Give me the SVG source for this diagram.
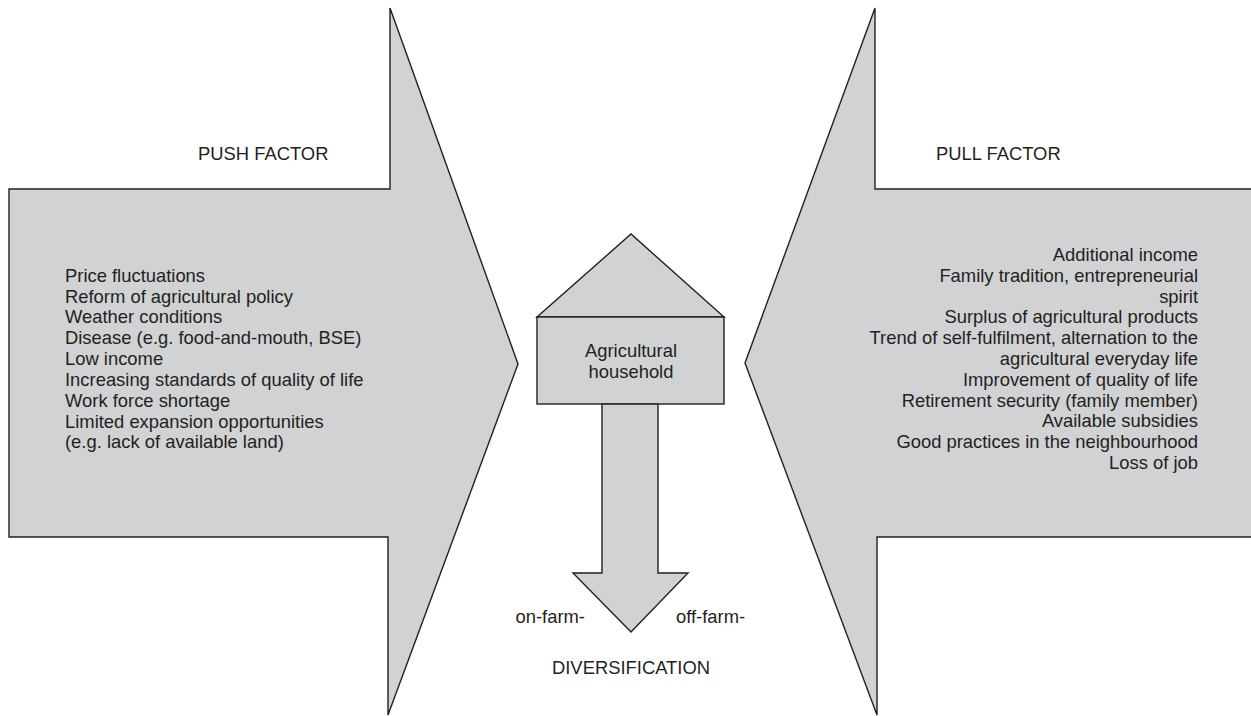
<svg xmlns="http://www.w3.org/2000/svg" width="1251" height="716" viewBox="0 0 1251 716">
<style>
.shape{fill:#d1d2d4;stroke:#231f20;stroke-width:1.4;stroke-linejoin:miter}
text{font-family:"Liberation Sans",Arial,sans-serif;font-size:18.4px;fill:#231f20}
.mid{text-anchor:middle}
.end{text-anchor:end}
</style>
<rect width="1251" height="716" fill="#ffffff"/>
<g id="push">
<polygon class="shape" points="390,8 518,364 388,715 388,537 9,537 9,189 390,189"/>
<text x="198" y="160">PUSH FACTOR</text>
<text x="65" y="281.7">Price fluctuations</text>
<text x="65" y="302.5">Reform of agricultural policy</text>
<text x="65" y="323.3">Weather conditions</text>
<text x="65" y="344.2">Disease (e.g. food-and-mouth, BSE)</text>
<text x="65" y="365">Low income</text>
<text x="65" y="385.8">Increasing standards of quality of life</text>
<text x="65" y="406.7">Work force shortage</text>
<text x="65" y="427.5">Limited expansion opportunities</text>
<text x="65" y="448.3">(e.g. lack of available land)</text>
</g>
<g id="pull">
<polygon class="shape" points="875,8 745,363 877,715 877,537 1262,537 1262,189 875,189"/>
<text x="936" y="160">PULL FACTOR</text>
<text class="end" x="1198" y="261">Additional income</text>
<text class="end" x="1198" y="281.8">Family tradition, entrepreneurial</text>
<text class="end" x="1198" y="302.6">spirit</text>
<text class="end" x="1198" y="323.4">Surplus of agricultural products</text>
<text class="end" x="1198" y="344.2">Trend of self-fulfilment, alternation to the</text>
<text class="end" x="1198" y="365">agricultural everyday life</text>
<text class="end" x="1198" y="385.8">Improvement of quality of life</text>
<text class="end" x="1198" y="406.6">Retirement security (family member)</text>
<text class="end" x="1198" y="427.4">Available subsidies</text>
<text class="end" x="1198" y="448.2">Good practices in the neighbourhood</text>
<text class="end" x="1198" y="469">Loss of job</text>
</g>
<g id="household">
<polygon class="shape" points="537,317 631,234 724,317"/>
<rect class="shape" x="537" y="317" width="187" height="87"/>
<text class="mid" x="631" y="356.5">Agricultural</text>
<text class="mid" x="631" y="378">household</text>
</g>
<g id="connectors">
<polygon class="shape" points="602,404 658,404 658,573 688,573 631,632 573,573 602,573"/>
</g>
<g id="diversification">
<text class="end" x="585" y="623">on-farm-</text>
<text x="676" y="623">off-farm-</text>
<text class="mid" x="631" y="674">DIVERSIFICATION</text>
</g>
</svg>
